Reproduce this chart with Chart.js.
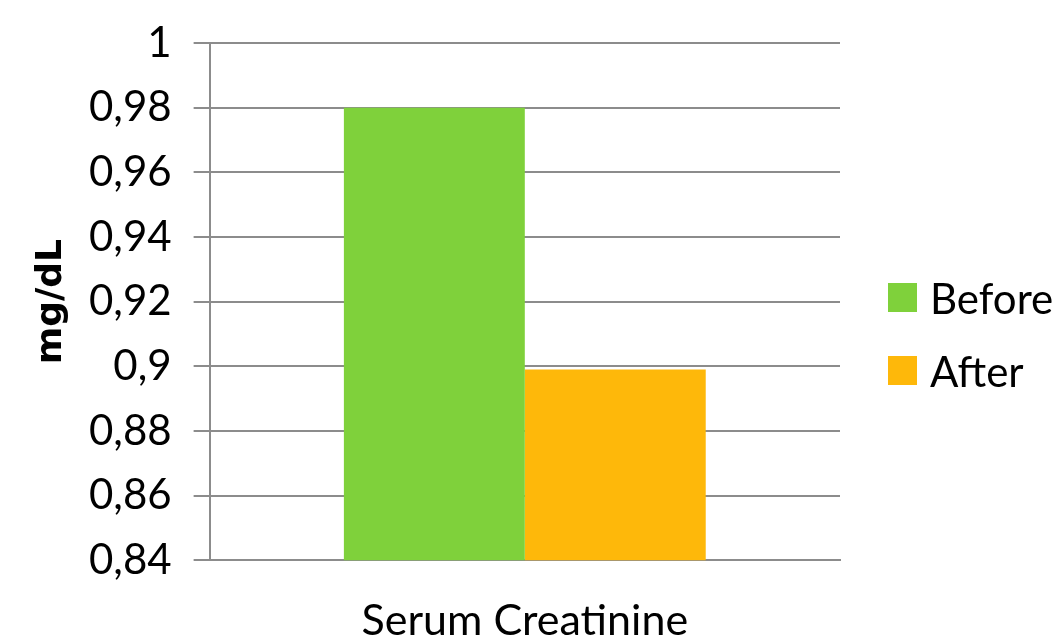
<!DOCTYPE html>
<html>
<head>
<meta charset="utf-8">
<script src="https://cdn.jsdelivr.net/npm/chart.js@4/dist/chart.umd.min.js"></script>
<style>
  html, body { margin: 0; padding: 0; background: #fff; }
  #wrap { position: relative; width: 1057px; height: 639px; }
  #legend { position: absolute; left: 888px; top: 283px; font-family: Lato, 'Open Sans', sans-serif; font-size: 42px; color: #000; }
  #legend .item { display: flex; align-items: center; height: 29px; margin-bottom: 44px; white-space: nowrap; }
  #legend .box { width: 29px; height: 29px; margin-right: 13px; flex: none; }
</style>
</head>
<body>
<div id="wrap">
  <canvas id="chart" width="1057" height="639"></canvas>
  <div id="legend"></div>
</div>
<script>
// values
const categories = ["Serum Creatinine"];
const seriesNames = ["Before", "After"];
const beforeValues = [0.98];
const afterValues = [0.899];
const yTicks = [0.84, 0.86, 0.88, 0.9, 0.92, 0.94, 0.96, 0.98, 1];

const GREEN = "#7fd13b";
const ORANGE = "#feb80a";
const GRID = "#8c8c8c";
const FONT = "Lato, 'Open Sans', sans-serif";

const fmt = (v) => String(Number(v.toFixed(2))).replace(".", ",");

const ctx = document.getElementById("chart").getContext("2d");
const chart = new Chart(ctx, {
  type: "bar",
  data: {
    labels: categories,
    datasets: [
      { label: seriesNames[0], data: beforeValues, backgroundColor: GREEN, borderWidth: 0 },
      { label: seriesNames[1], data: afterValues, backgroundColor: ORANGE, borderWidth: 0 },
    ],
  },
  options: {
    responsive: false,
    animation: false,
    layout: { padding: { top: 0, right: 217, bottom: -42, left: 18 } },
    datasets: { bar: { categoryPercentage: 0.574, barPercentage: 1 } },
    plugins: {
      tooltip: { enabled: false },
      legend: { display: false },
    },
    scales: {
      x: {
        grid: { display: false, drawTicks: false },
        border: { display: true, color: GRID, width: 2 },
        ticks: { color: "#000", padding: 41, font: { family: FONT, size: 43, lineHeight: 0.9 } },
      },
      y: {
        min: 0.84, max: 1,
        afterBuildTicks: (axis) => { axis.ticks = yTicks.map((v) => ({ value: v })); },
        grid: { color: GRID, lineWidth: 2, tickLength: 16, drawTicks: true },
        border: { display: true, color: GRID, width: 2 },
        ticks: { color: "#000", padding: 22, callback: (v) => fmt(v), font: { family: FONT, size: 42, lineHeight: 1 } },
        title: {
          display: true, text: "mg/dL", color: "#000",
          padding: { top: 16, bottom: -3 },
          font: { family: "'DejaVu Sans', sans-serif", size: 36, weight: "bold", lineHeight: 1 },
        },
      },
    },
  },
});

// legend built from the chart's datasets
const legend = document.getElementById("legend");
chart.data.datasets.forEach((ds) => {
  const item = document.createElement("div");
  item.className = "item";
  const box = document.createElement("span");
  box.className = "box";
  box.style.background = ds.backgroundColor;
  const label = document.createElement("span");
  label.textContent = ds.label;
  item.appendChild(box);
  item.appendChild(label);
  legend.appendChild(item);
});
</script>
</body>
</html>
